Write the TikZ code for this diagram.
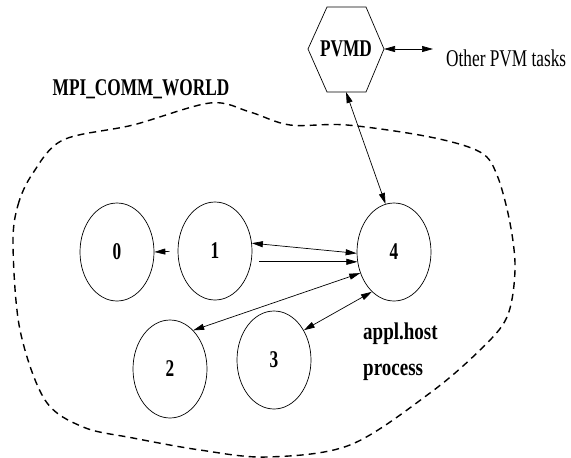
\documentclass[tikz,border=0pt]{standalone}
\usepackage{fontspec}
\setmainfont{Liberation Serif}
\usetikzlibrary{shapes.geometric,arrows.meta}

% narrow, tall lettering
\newcommand{\tallbf}[1]{\scalebox{0.72}[1]{\fontsize{24}{26}\selectfont\bfseries #1}}
\newcommand{\tallrm}[1]{\scalebox{0.72}[1]{\fontsize{24}{26}\selectfont #1}}

\begin{document}
\begin{tikzpicture}[x=1pt, y=-1pt,
    proc/.style={draw, ellipse, line width=0.7pt, minimum width=74pt, minimum height=98pt, inner sep=0pt},
    msg/.style={line width=0.7pt, -{Triangle[length=11pt,width=6pt]}},
    msgs/.style={line width=0.7pt, {Triangle[length=11pt,width=6pt]}-{Triangle[length=11pt,width=6pt]}},
    world/.style={line width=1.4pt, dash pattern=on 7pt off 5pt}]
    \useasboundingbox (0,0) rectangle (571,458);

    % Communicator boundary
    \draw[world] plot[smooth cycle, tension=0.55] coordinates {
      (13,245) (18,205) (33,173) (63,140) (133,125) (210,103) (250,112)
      (290,125) (347,125) (430,137) (480,152) (497,175) (510,223) (515,270)
      (507,317) (480,350) (430,393) (350,445) (267,457) (200,450)
      (133,438) (83,427) (45,400) (20,330)};
    \node (world) at (141,89) {\tallbf{MPI\_COMM\_WORLD}};

    % PVM daemon
    \node (pvmd) at (346,49) {\tallbf{PVMD}};
    \coordinate (hexR) at (384,49);
    \coordinate (hexB) at (346,92);
    \draw[line width=0.7pt] (308,49) -- (327,7) -- (366,7) -- (hexR) -- (366,92) -- (327,92) -- cycle;
    \node[anchor=west, inner sep=0pt] (others) at (446,58) {\tallrm{Other PVM tasks}};
    \draw[msgs] (hexR) -- (hexR -| others.west) [shorten >=13pt];

    % Processes
    \node[proc] (p0) at (117,252) {\tallbf{0}};
    \node[proc] (p1) at (215,251) {\tallbf{1}};
    \node[proc] (p4) at (394,252) {\tallbf{4}};
    \node[proc] (p2) at (170,369) {\tallbf{2}};
    \node[proc] (p3) at (274,360) {\tallbf{3}};

    \node[anchor=west, inner sep=0pt] (host1) at (363,334) {\scalebox{1.1}[1]{\tallbf{appl.host}}};
    \node[anchor=west, inner sep=0pt] (host2) at (363,372) {\scalebox{1.1}[1]{\tallbf{process}}};

    % Messages
    \draw[msg, shorten <=8pt] (p1.west) -- (p0.east);
    \draw[msgs] (p1.12) -- (p4.182);
    \coordinate (s14) at ([xshift=7pt]p1.east);
    \draw[msg] (s14 |- p4.195) -- (p4.195);
    \draw[msgs] (p4.212) -- (p2.59);
    \draw[msgs] (p4.241) -- (p3.45);
    \draw[msgs] (hexB) -- (p4.100);
  \end{tikzpicture}
\end{document}
